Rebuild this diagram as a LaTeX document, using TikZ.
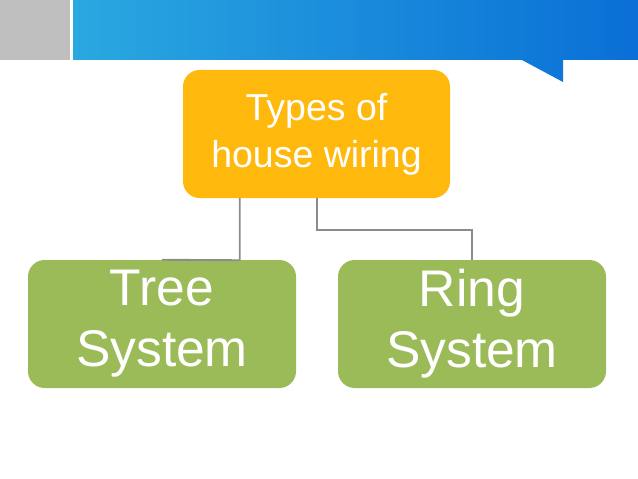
\documentclass[tikz,border=0pt]{standalone}
\usepackage{fontspec}
\setmainfont{Liberation Sans}
\usetikzlibrary{positioning}
\definecolor{topbox}{HTML}{FFB80C}
\definecolor{leafbox}{HTML}{9BBB59}
\definecolor{wire}{HTML}{8C8C8C}
\definecolor{bandl}{HTML}{2AA8E0}
\definecolor{bandr}{HTML}{0A6FD6}

\begin{document}
\begin{tikzpicture}
    [x=0.03cm, y=-0.03cm,
    root/.style={fill=topbox, rounded corners=0.5cm, text=white, align=center,
      minimum width=267*0.03cm, minimum height=128*0.03cm,
      font=\fontsize{32}{40}\selectfont},
    leaf/.style={fill=leafbox, rounded corners=0.5cm, text=white, align=center,
      minimum width=268*0.03cm, minimum height=128*0.03cm,
      font=\fontsize{44}{52}\selectfont},
    link/.style={draw=wire, line width=1.6pt}]
    \useasboundingbox (0,0) rectangle (638,479);
    % header band
    \fill[gray!50] (0,0) rectangle (70,60);
    \shade[left color=bandl, right color=bandr]
      (73,0) -- (638,0) -- (638,60) -- (563,60) -- (563,82) -- (522,60) -- (73,60) -- cycle;
    \node[root] (W) at (316.5,134) {Types of\\house wiring};
    \node[leaf] (T) at (162,324) {Tree\\System};
    \node[leaf] (R) at (472,324) {Ring\\System};
    \draw[link] ([xshift=57*0.03cm]W.south west) -- ++(0,62) -- (T.north);
    \draw[link] ([xshift=134*0.03cm]W.south west) -- ++(0,32) -| (R.north);
\end{tikzpicture}
\end{document}
